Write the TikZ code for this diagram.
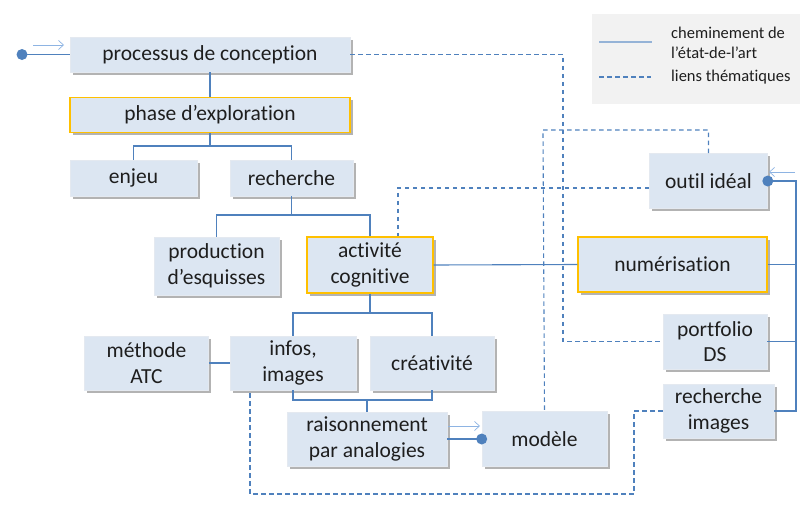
\documentclass[tikz,border=0pt]{standalone}
\usepackage{fontspec}
\setmainfont[Ligatures=NoCommon]{Carlito}
\usetikzlibrary{shadows,arrows.meta}
\definecolor{boxfill}{HTML}{DCE6F2}
\definecolor{boxline}{HTML}{E4E9F0}
\definecolor{gold}{HTML}{FFC000}
\definecolor{conn}{HTML}{4F81BD}
\definecolor{thinarrow}{HTML}{8EB4E3}
\definecolor{legfill}{HTML}{F2F2F2}
\definecolor{legline}{HTML}{95B3D7}
\definecolor{txt}{HTML}{1E1E1E}
\begin{document}
\begin{tikzpicture}[x=1pt,y=-1pt,
  box/.style={draw=boxline, line width=0.6pt, fill=boxfill, text=txt, align=center,
    inner sep=0pt, font=\fontsize{21.5}{25.5}\selectfont,
    drop shadow={shadow xshift=2.5pt,shadow yshift=-2.5pt,fill=black!50,opacity=0.6}},
  gbox/.style={box, draw=gold, line width=1.1pt},
  sz/.style 2 args={minimum width=#1pt, minimum height=#2pt},
  solidc/.style={draw=conn, line width=1.1pt},
  dashc/.style={draw=conn, line width=1.1pt, dash pattern=on 4.5pt off 3.5pt},
  tarrow/.style={draw=thinarrow, line width=0.7pt, -{Straight Barb[length=5pt,width=9pt]}},
  legtext/.style={anchor=west, align=left, text=txt, inner sep=0pt, font=\fontsize{16.5}{20.5}\selectfont}
]
\useasboundingbox (0,0) rectangle (800,506);

% legend
\node[fill=legfill, draw=white!95!black, minimum width=208pt, minimum height=89pt, inner sep=0pt] (leg) at (696,58.5) {};
\coordinate (ls1) at (599,42); \coordinate (ls2) at (652,42);
\coordinate (ld1) at (599,77); \coordinate (ld2) at (651,77);
\draw[draw=legline, line width=1.4pt] (ls1) -- (ls2);
\draw[dashc] (ld1) -- (ld2);
\node[legtext] (lt1) at (671,43) {cheminement de\\l’état-de-l’art};
\node[legtext] (lt2) at (671,77) {liens thématiques};

% boxes
\node[box, sz={280}{35}] (proc) at (210,54.5) {processus de conception};
\node[gbox, sz={280}{35}] (phase) at (210,115) {phase d’exploration};
\node[box, sz={127}{36}] (enjeu) at (133.5,178) {enjeu};
\node[box, sz={123}{36}] (rech) at (291.5,178) {recherche};
\node[box, sz={125}{58}] (prod) at (216.5,266) {production\\d’esquisses};
\node[gbox, sz={126}{56}] (act) at (370,265) {activité\\cognitive};
\node[gbox, sz={189}{55}] (num) at (672.5,264.5) {numérisation};
\node[box, sz={118}{55}] (outil) at (708.5,181) {outil idéal};
\node[box, sz={124}{54}] (meth) at (146.5,363) {méthode\\ATC};
\node[box, sz={126}{54}] (infos) at (293,363) {infos,\\images};
\node[box, sz={124}{54}] (crea) at (432,363) {créativité};
\node[box, sz={160}{54}] (rais) at (367,439) {raisonnement\\par analogies};
\node[box, sz={125}{55}] (mod) at (544.5,439) {modèle};
\node[box, sz={104}{55}] (port) at (715,341.5) {portfolio\\DS};
\node[box, sz={111}{54}] (rimg) at (718.5,411) {recherche\\images};

% coordinates
\coordinate (start) at (22,54.5);
\coordinate (a1) at (33,45); \coordinate (a2) at (64,45);
\coordinate (b1) at (448,426); \coordinate (b2) at (480,426);
\coordinate (c1) at (795,172); \coordinate (c2) at (769,172);
\coordinate (bus) at (796,0);
\coordinate (j1) at (0,146);
\coordinate (j2) at (0,215);
\coordinate (j3) at (0,313);
\coordinate (j4) at (0,400);

% solid connectors
\draw[solidc] (start) -- (proc.west);
\fill[conn] (start) circle (5.5pt);
\draw[tarrow] (a1) -- (a2);
\draw[solidc] (proc.south) -- (phase.north);
\draw[solidc] (phase.south) -- (phase.south |- j1) -| (enjeu.north);
\draw[solidc] (phase.south |- j1) -| (rech.north);
\draw[solidc] (rech.south) -- (rech.south |- j2) -| (prod.north);
\draw[solidc] (rech.south |- j2) -| (act.north);
\draw[solidc] (act.east) -- (num.west);
\draw[solidc] (act.south) -- (act.south |- j3) -| (infos.north);
\draw[solidc] (act.south |- j3) -| (crea.north);
\draw[solidc] (meth.east) -- (infos.west);
\draw[solidc] (infos.south) |- (rais.north |- j4) -| (crea.south);
\draw[solidc] (rais.north |- j4) -- (rais.north);
\draw[solidc] (rais.east) -- (mod.west);
\fill[conn] (mod.west) circle (5.5pt);
\draw[tarrow] (b1) -- (b2);
\draw[solidc] (outil.east) -- (outil.east -| bus) -- (rimg.east -| bus) -- (rimg.east);
\draw[solidc] (num.east) -- (num.east -| bus);
\draw[solidc] (port.east) -- (port.east -| bus);
\fill[conn] (outil.east) circle (5.5pt);
\draw[tarrow] (c1) -- (c2);

% dashed connectors
\coordinate (d1) at (563,0);
\coordinate (d2) at (543,130);
\coordinate (d3) at (398,188);
\coordinate (d4) at (634,494);
\coordinate (d5) at (250,494);
\draw[dashc] (proc.east) -- (proc.east -| d1) -- (port.west -| d1) -- (port.west);
\draw[dashc] (outil.north) -- (outil.north |- d2) -- (d2) -- (mod.north);
\draw[dashc] (outil.west |- d3) -- (d3) -- (d3 |- act.north);
\draw[dashc] (rimg.west) -- (rimg.west -| d4) -- (d4) -- (d5) -- (d5 |- infos.south);
\end{tikzpicture}
\end{document}
